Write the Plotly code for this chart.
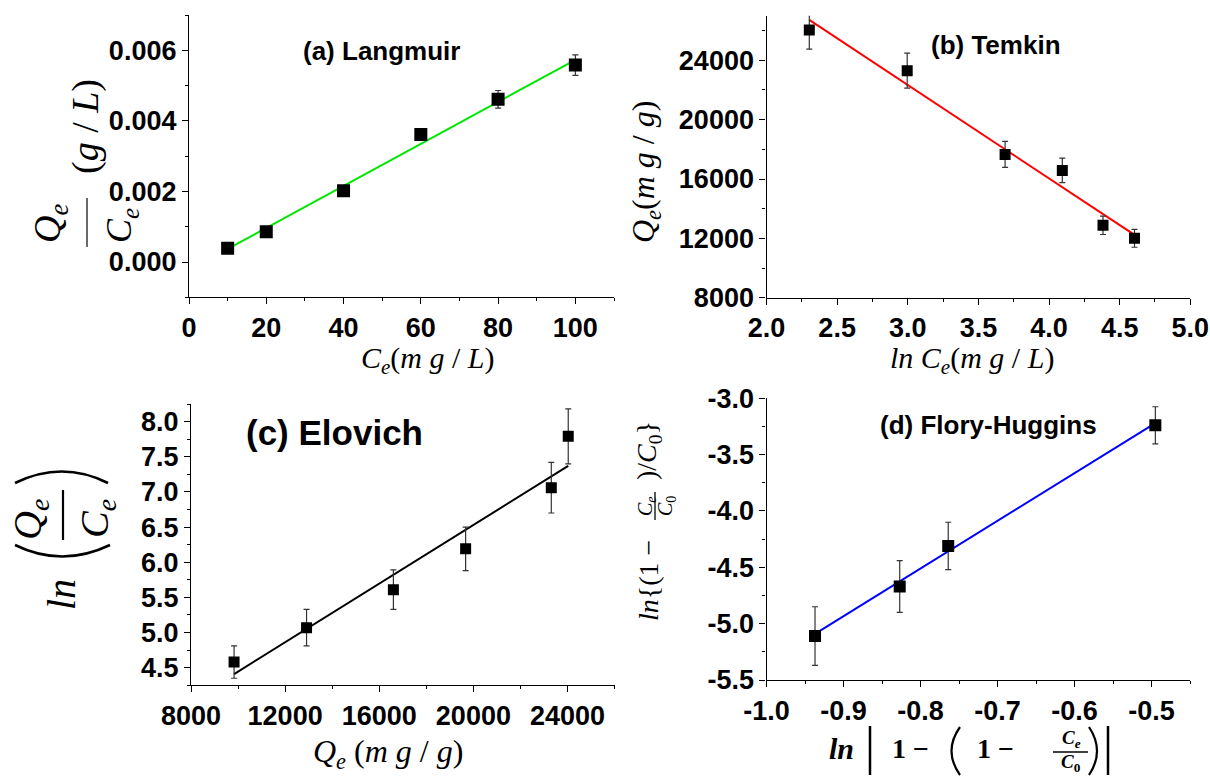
import plotly.graph_objects as go

W, H = 1210, 776

# ---------------- data ----------------
# (a) Langmuir
a_x = [10, 20, 40, 60, 80, 100]
a_y = [0.00039, 0.00086, 0.00202, 0.00361, 0.00461, 0.00558]
a_err = [0.00008, 0.00008, 0.0001, 0.00012, 0.00025, 0.00029]
a_fit_x = [10, 100]
a_fit_y = [0.00037, 0.00573]

# (b) Temkin
b_x = [2.303, 2.996, 3.689, 4.094, 4.382, 4.605]
b_y = [26050, 23300, 17660, 16580, 12880, 12000]
b_err = [1300, 1180, 870, 830, 620, 600]
b_fit_x = [2.303, 4.605]
b_fit_y = [26720, 12230]

# (c) Elovich
c_x = [9830, 12910, 16600, 19670, 23310, 24030]
c_y = [4.58, 5.07, 5.61, 6.19, 7.06, 7.79]
c_err = [0.23, 0.26, 0.28, 0.31, 0.36, 0.39]
c_fit_x = [9830, 24030]
c_fit_y = [4.41, 7.37]

# (d) Flory-Huggins
d_x = [-0.937, -0.827, -0.764, -0.495]
d_y = [-5.11, -4.67, -4.31, -3.24]
d_err = [0.26, 0.23, 0.21, 0.165]
d_fit_x = [-0.937, -0.495]
d_fit_y = [-5.09, -3.22]

d_xticks = [-1.0, -0.9, -0.8, -0.7, -0.6, -0.5]
d_xlabels = ["-1.0", "-0.9", "-0.8", "-0.7", "-0.6", "-0.5"]
d_yticks = [-5.5, -5.0, -4.5, -4.0, -3.5, -3.0]
d_ylabels = ["-5.5", "-5.0", "-4.5", "-4.0", "-3.5", "-3.0"]


def px(x, y):
    return x / W, 1 - y / H


def dom_x(x0, x1):
    return [x0 / W, x1 / W]


def dom_y(y_top, y_bot):
    return [1 - y_bot / H, 1 - y_top / H]


fig = go.Figure()

panels = [
    ("x", "y", a_x, a_y, a_err, a_fit_x, a_fit_y, "#00e600", 13),
    ("x2", "y2", b_x, b_y, b_err, b_fit_x, b_fit_y, "#ff0000", 11),
    ("x3", "y3", c_x, c_y, c_err, c_fit_x, c_fit_y, "#000000", 11),
    ("x4", "y4", d_x, d_y, d_err, d_fit_x, d_fit_y, "#0000ff", 12),
]
for xa, ya, xs, ys, es, fx, fy, col, msz in panels:
    fig.add_trace(go.Scatter(x=fx, y=fy, mode="lines", line=dict(color=col, width=2),
                             xaxis=xa, yaxis=ya, showlegend=False, hoverinfo="skip"))
    fig.add_trace(go.Scatter(x=xs, y=ys, mode="markers",
                             marker=dict(symbol="square", size=msz, color="black"),
                             error_y=dict(type="data", array=es, color="#333333", thickness=1.2, width=3),
                             xaxis=xa, yaxis=ya, showlegend=False))

tickfont = dict(family="Arial, Liberation Sans, sans-serif", size=27, color="black", weight="bold")


def ax(domain, rng, dtick=None, tick0=None, minor_dtick=None, fmt=None, anchor=None, tickvals=None, ticktext=None):
    d = dict(domain=domain, range=rng, showline=True, linecolor="black", linewidth=1.3,
             ticks="outside", ticklen=6, tickwidth=1.3, tickcolor="black",
             showgrid=False, zeroline=False, tickfont=tickfont, automargin=False,
             anchor=anchor, fixedrange=True)
    if tickvals is not None:
        d.update(tickmode="array", tickvals=tickvals, ticktext=ticktext)
    else:
        d.update(tickmode="linear", dtick=dtick, tick0=tick0)
    if fmt:
        d["tickformat"] = fmt
    if minor_dtick:
        d["minor"] = dict(ticks="outside", ticklen=3, tickwidth=1, tickcolor="black",
                          dtick=minor_dtick, tick0=(tick0 if tick0 is not None else 0), showgrid=False)
    return d


fig.update_layout(
    width=W, height=H, margin=dict(l=0, r=0, t=0, b=0),
    paper_bgcolor="white", plot_bgcolor="white",
    xaxis=ax(dom_x(189, 614), [0, 110], 20, 0, 10, None, "y"),
    yaxis=ax(dom_y(15, 297.3), [-0.001, 0.007], 0.002, 0, 0.001, ".3f", "x"),
    xaxis2=ax(dom_x(766.5, 1190.3), [2.0, 5.0], 0.5, 2.0, 0.25, ".1f", "y2"),
    yaxis2=ax(dom_y(15.8, 297.7), [8000, 27000], 4000, 8000, 2000, "d", "x2"),
    xaxis3=ax(dom_x(191, 614.6), [8000, 26000], 4000, 8000, 2000, "d", "y3"),
    yaxis3=ax(dom_y(404, 685.3), [4.25, 8.25], 0.5, 4.5, 0.25, ".1f", "x3"),
    xaxis4=ax(dom_x(766.5, 1190), [-1.0, -0.45], None, -1.0, 0.05, None, "y4", d_xticks, d_xlabels),
    yaxis4=ax(dom_y(398.3, 680), [-5.5, -3.0], None, -5.5, 0.25, None, "x4", d_yticks, d_ylabels),
)

ann = []
shapes = []
SERIF = "Liberation Serif, Times New Roman, serif"


def text(x, y, t, size, family=SERIF, angle=0, weight="normal", color="black"):
    X, Y = px(x, y)
    ann.append(dict(x=X, y=Y, xref="paper", yref="paper", text=t, showarrow=False,
                    textangle=angle, xanchor="center", yanchor="middle",
                    font=dict(family=family, size=size, color=color, weight=weight)))


def line(x0, y0, x1, y1, w=1.5, color="black"):
    X0, Y0 = px(x0, y0)
    X1, Y1 = px(x1, y1)
    shapes.append(dict(type="line", xref="paper", yref="paper", x0=X0, y0=Y0, x1=X1, y1=Y1,
                       line=dict(color=color, width=w)))


def qcurve(p0, c, p1, w=2.2):
    pts = [px(*p0), px(*c), px(*p1)]
    path = "M {:.5f},{:.5f} Q {:.5f},{:.5f} {:.5f},{:.5f}".format(*pts[0], *pts[1], *pts[2])
    shapes.append(dict(type="path", xref="paper", yref="paper", path=path,
                       line=dict(color="black", width=w)))


SANS = "Arial, Liberation Sans, sans-serif"
# panel titles
text(381, 51, "(a) Langmuir", 26, SANS, weight="bold")
text(996, 45, "(b) Temkin", 26, SANS, weight="bold")
text(334, 432, "(c) Elovich", 35, SANS, weight="bold")
text(988, 425, "(d) Flory-Huggins", 26, SANS, weight="bold")

# (a) axis titles
text(428, 360, "<i>C<sub>e</sub></i>(<i>m g</i> / <i>L</i>)", 30)
text(50, 224, "<i>Q<sub>e</sub></i>", 38, angle=-90)
line(87, 198, 87, 247, 1.6, "#444444")
text(121, 226, "<i>C<sub>e</sub></i>", 36, angle=-90)
text(86, 127, "(<i>g</i> / <i>L</i>)", 38, angle=-90)

# (b) axis titles
text(972, 360, "<i>ln C<sub>e</sub></i>(<i>m g</i> / <i>L</i>)", 30)
text(645, 172, "<i>Q<sub>e</sub></i>(<i>m g</i> / <i>g</i>)", 32, angle=-90)

# (c) axis titles
text(388, 753, "<i>Q<sub>e</sub></i> (<i>m g</i> / <i>g</i>)", 32)
text(61, 595, "<i>ln</i>", 40, angle=-90)
text(30, 520, "<i>Q<sub>e</sub></i>", 40, angle=-90)
line(63, 490, 63, 540, 2.2)
text(97, 518, "<i>C<sub>e</sub></i>", 40, angle=-90)
qcurve((15, 545), (62, 568), (110, 545), 2.6)
qcurve((15, 483), (62, 460), (108, 483), 2.6)

# (d) axis titles
text(648, 581, "<i>ln</i>{(1 −", 28, angle=-90)
text(646, 506, "<i>C<sub>e</sub></i>", 20, angle=-90)
line(655, 492, 655, 520, 1.3)
text(666, 506, "<i>C</i><sub>0</sub>", 20, angle=-90)
text(648, 451, ")/<i>C</i><sub>0</sub>}", 28, angle=-90)

text(841, 748, "<i>ln</i>", 30, weight="bold")
line(870, 726, 870, 775, 2.5)
text(910, 748, "1 −", 28, weight="bold")
qcurve((960, 727), (943, 751), (960, 775), 2.2)
text(995, 748, "1 −", 28, weight="bold")
text(1071, 739, "<i>C<sub>e</sub></i>", 19, weight="bold")
line(1053, 752, 1088, 752, 1.5)
text(1071, 763, "<i>C</i><sub>0</sub>", 19, weight="bold")
qcurve((1089, 727), (1105, 751), (1089, 775), 2.2)
line(1108, 726, 1108, 775, 2.5)

fig.update_layout(annotations=ann, shapes=shapes)

fig.write_html("out.html")
